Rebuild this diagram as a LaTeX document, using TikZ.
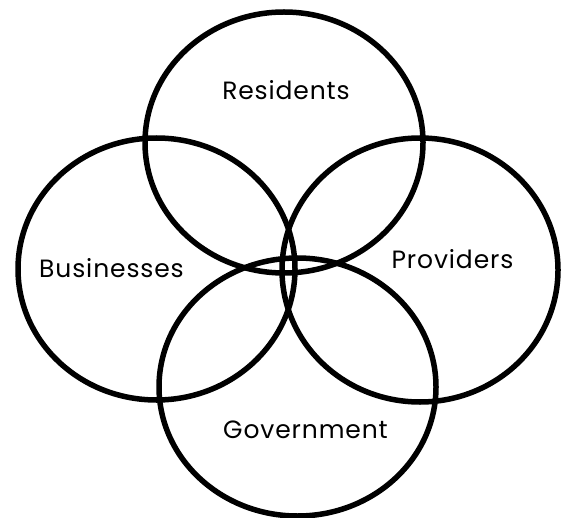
\documentclass[tikz,border=0pt]{standalone}
\usepackage{fontspec}
\setmainfont{Poppins}[LetterSpace=3.5]
\begin{document}
\begin{tikzpicture}[x=1pt,y=-1pt,
  ring/.style={draw=black,line width=5.5pt},
  tag/.style={anchor=base,inner sep=0pt,font=\fontsize{25}{30}\selectfont}]
\useasboundingbox (0,0) rectangle (569,518);
% four overlapping stakeholder ovals
\draw[ring] (284,142.5) ellipse [x radius=139,y radius=130.5];
\draw[ring] (156.5,269) ellipse [x radius=138.5,y radius=131];
\draw[ring] (420,270) ellipse [x radius=138,y radius=132];
\draw[ring] (297.5,387) ellipse [x radius=138.5,y radius=129];
% labels
\node[tag] (res) at (286,99.3) {Residents};
\node[tag] (bus) at (111.5,277) {Businesses};
\node[tag] (pro) at (452.5,269) {Providers};
\node[tag] (gov) at (305.5,438) {Government};
\end{tikzpicture}
\end{document}
